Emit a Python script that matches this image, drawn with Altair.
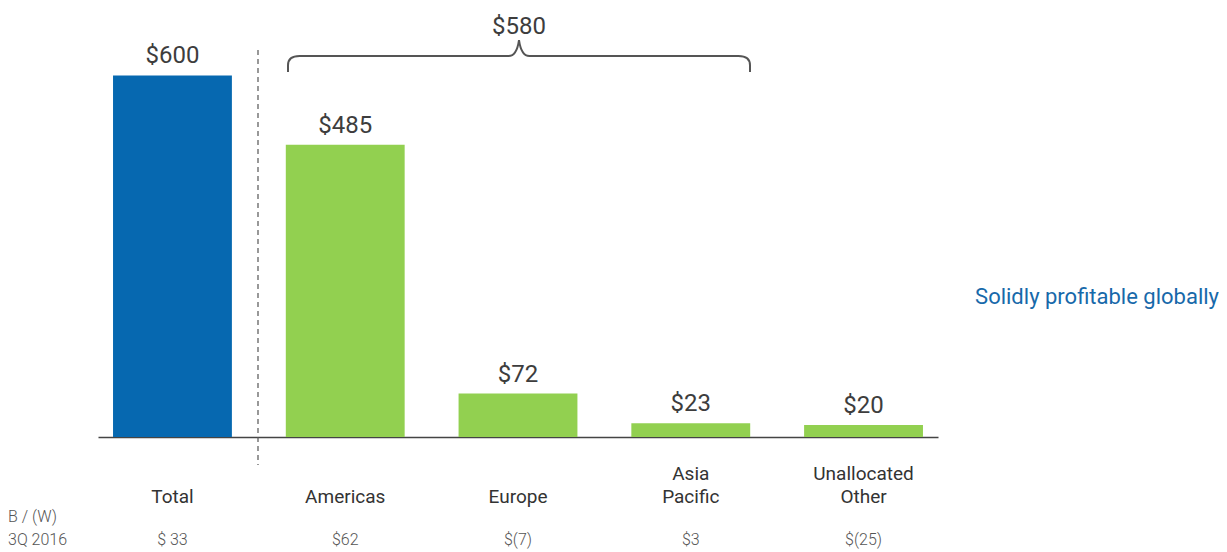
import altair as alt
import pandas as pd

categories = ["Total", "Americas", "Europe", "Asia Pacific", "Unallocated Other"]
values = [600, 485, 72, 23, 20]
value_labels = ["$600", "$485", "$72", "$23", "$20"]
groups = ["total", "region", "region", "region", "region"]
label_line1 = ["", "", "", "Asia", "Unallocated"]
label_line2 = ["Total", "Americas", "Europe", "Pacific", "Other"]
bw_labels = ["$ 33", "$62", "$(7)", "$3", "$(25)"]
region_sum_label = "$580"
side_note = "Solidly profitable globally"
row_title1 = "B / (W)"
row_title2 = "3Q 2016"

df = pd.DataFrame({
    "cat": categories,
    "val": values,
    "vlab": value_labels,
    "grp": groups,
    "l1": label_line1,
    "l2": label_line2,
    "bw": bw_labels,
})

FONT = "Roboto"
W, H = 840, 429

x = alt.X("cat:N", sort=categories,
          scale=alt.Scale(paddingInner=0.312, paddingOuter=0.087),
          axis=alt.Axis(labels=False, ticks=False, title=None, domain=True,
                        domainColor="#444444", domainWidth=1.5, grid=False))
y = alt.Y("val:Q", scale=alt.Scale(domain=[0, 712], nice=False, zero=True), axis=None)

base = alt.Chart(df)

bars = base.mark_bar().encode(
    x=x, y=y,
    color=alt.Color("grp:N", scale=alt.Scale(domain=["total", "region"],
                                             range=["#0668B0", "#92D050"]), legend=None),
)

vtext = base.mark_text(font=FONT, fontSize=24, fontWeight="normal", color="#3d3d3d",
                       baseline="alphabetic", dy=-12).encode(x=x, y=y, text="vlab:N")

l1 = base.mark_text(font=FONT, fontSize=19, fontWeight="normal", color="#333333",
                    baseline="middle").encode(x=x, y=alt.value(466), text="l1:N")
l2 = base.mark_text(font=FONT, fontSize=19, fontWeight="normal", color="#333333",
                    baseline="middle").encode(x=x, y=alt.value(489), text="l2:N")
bw = base.mark_text(font=FONT, fontSize=16, fontWeight=300, color="#555555",
                    baseline="middle").encode(x=x, y=alt.value(532), text="bw:N")

one = pd.DataFrame({"t": [region_sum_label]})
sum_text = alt.Chart(one).mark_text(font=FONT, fontSize=24, fontWeight="normal", color="#3d3d3d",
                                    baseline="middle").encode(
    x=alt.value(421), y=alt.value(19), text="t:N")

brace_path = ("M -1 0.069 L -1 0.04 Q -1 0 -0.95 0 L -0.045 0 Q -0.01 0 0 -0.069 "
              "Q 0.01 0 0.045 0 L 0.95 0 Q 1 0 1 0.04 L 1 0.069")
brace = alt.Chart(one).mark_point(shape=brace_path, size=462 * 462, filled=False,
                                  color="#555555", strokeWidth=2, opacity=1).encode(
    x=alt.value(421), y=alt.value(48))

divider = alt.Chart(one).mark_rule(color="#555555", strokeWidth=1.2,
                                   strokeDash=[5, 4]).encode(
    x=alt.value(160), y=alt.value(42), y2=alt.value(457))

t_note = alt.Chart(pd.DataFrame({"t": [side_note]})).mark_text(
    font=FONT, fontSize=22, color="#1769AA", align="right", baseline="middle").encode(
    x=alt.value(1121), y=alt.value(289), text="t:N")

t_row1 = alt.Chart(pd.DataFrame({"t": [row_title1]})).mark_text(
    font=FONT, fontSize=16, fontWeight=300, color="#555555", align="left", baseline="middle").encode(
    x=alt.value(-90), y=alt.value(509), text="t:N")
t_row2 = alt.Chart(pd.DataFrame({"t": [row_title2]})).mark_text(
    font=FONT, fontSize=16, fontWeight=300, color="#555555", align="left", baseline="middle").encode(
    x=alt.value(-90), y=alt.value(532), text="t:N")

chart = alt.layer(bars, vtext, l1, l2, bw, sum_text, brace, divider, t_note, t_row1, t_row2).properties(
    width=W, height=H,
    background="white",
    autosize=alt.AutoSizeParams(type="none"),
    padding={"left": 90, "top": 0, "right": 281, "bottom": 113},
).configure_view(strokeWidth=0, stroke=None)

chart.save("out.html", embed_options={"renderer": "svg", "actions": False})
